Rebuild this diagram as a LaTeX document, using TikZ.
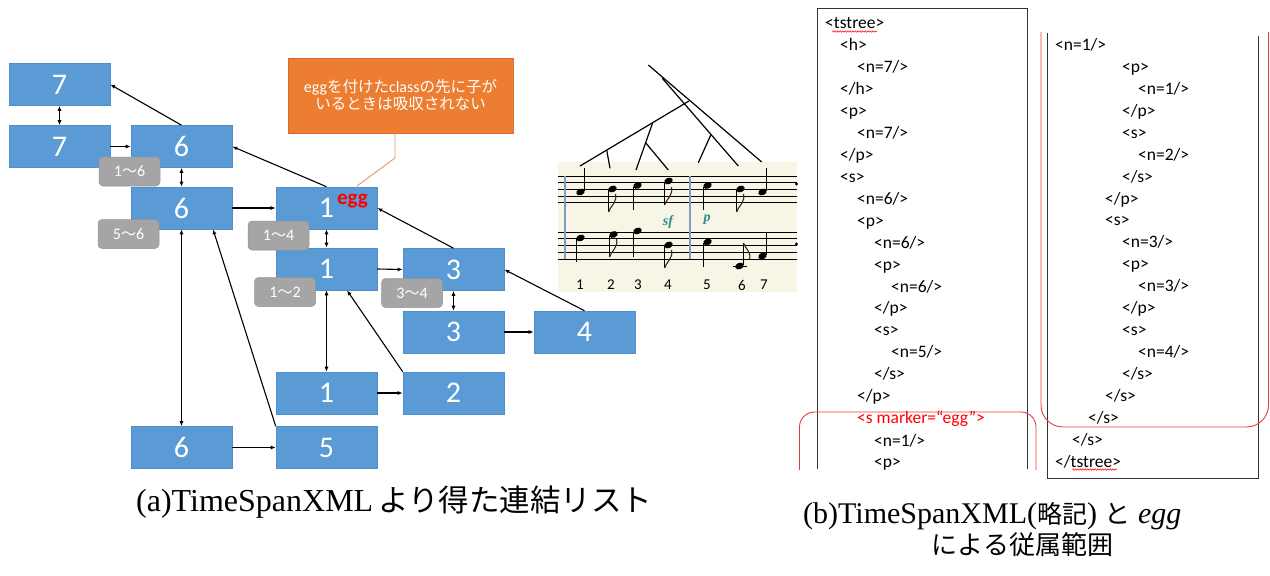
\documentclass[tikz,border=0pt]{standalone}
\usepackage{fontspec}
\setmainfont{Liberation Serif}
\newfontfamily\jp{Noto Sans CJK JP}
\newfontfamily\calfont{Carlito}
\usetikzlibrary{arrows.meta,decorations.pathmorphing,calc}
\definecolor{boxblue}{HTML}{5B9BD5}
\definecolor{boxedge}{HTML}{4F8FCB}
\definecolor{lblgray}{HTML}{A5A5A5}
\definecolor{lbledge}{HTML}{959595}
\definecolor{calloutor}{HTML}{ED7D31}
\definecolor{pointercol}{HTML}{E09868}
\definecolor{beige}{HTML}{F7F5E6}
\definecolor{barblue}{HTML}{7F9CC0}
\definecolor{dyncol}{HTML}{2E8B8B}
\definecolor{xmlred}{HTML}{FF0000}
\definecolor{panelred}{HTML}{E83A3A}
\definecolor{panelgray}{HTML}{333333}
\definecolor{flagcol}{HTML}{4A2222}
\newcommand\latn[1]{{\calfont\fontsize{16}{17}\selectfont #1}}
\newcommand\xl[4]{\node[xmltext] (#1) at (#2,#3+5.5) {#4};}
\newcommand\xr[4]{\node[xmltext,text=xmlred] (#1) at (#2,#3+5.5) {#4};}
\newcommand\nh[2]{\fill[rotate around={22:(#1,#2)}] (#1,#2) ellipse [x radius=4.4, y radius=3.2];}
\begin{document}
\begin{tikzpicture}[x=1pt,y=-1pt,
  bluebox/.style={fill=boxblue, draw=boxedge, line width=0.6pt, minimum width=101pt, minimum height=42pt, inner sep=0pt, text=white, font=\calfont\fontsize{30}{30}\selectfont},
  lbl/.style={fill=lblgray, draw=lbledge, line width=0.5pt, rounded corners=4pt, minimum width=61pt, minimum height=29pt, inner sep=0pt, text=white, font=\calfont\fontsize{16}{16}\selectfont},
  link/.style={-{Latex[length=5pt,width=4pt]}, line width=1.1pt},
  dlink/.style={{Latex[length=5pt,width=4pt]}-{Latex[length=5pt,width=4pt]}, line width=1.1pt},
  xmltext/.style={anchor=base west, inner sep=0pt, font=\calfont\fontsize{17.5}{17.5}\selectfont, text=black},
  staff/.style={line width=0.8pt, black},
  barl/.style={line width=1.2pt, barblue},
  stem/.style={line width=1pt, black},
  flag/.style={line width=1.1pt, flagcol},
  tree/.style={line width=1.2pt, black},
  num/.style={inner sep=0pt, font=\calfont\fontsize{15}{15}\selectfont},
  dyn/.style={inner sep=0pt, text=dyncol, font=\fontsize{14}{14}\selectfont\bfseries\itshape},
  panel/.style={line width=0.9pt, panelgray},
  redpanel/.style={line width=0.9pt, panelred},
  squig/.style={xmlred, line width=0.5pt, decorate, decoration={snake, amplitude=0.7pt, segment length=2.5pt}}
]
\useasboundingbox (0,0) rectangle (1270,576);

% ---------------- score ----------------
\fill[beige] (558,162) rectangle (797,292);
\foreach \yy in {176,182.7,189.4,196.1,202.8,232,238.8,245.6,252.4,259.2}
  \draw[staff] (558,\yy) -- (797,\yy);
\draw[barl] (565,176) -- (565,259.2);
\draw[barl] (690,176) -- (690,259.2);
% upper staff notes
\nh{580.5}{192} \draw[stem] (584.5,191) -- (584.5,168);
\nh{612.5}{189} \draw[stem] (608.5,190) -- (608.5,212);
\draw[flag] (608.5,212) .. controls (610.5,206) and (617.5,202) .. (615.5,194);
\nh{637.5}{185.5} \draw[stem] (633.5,186.5) -- (633.5,210);
\nh{668.5}{181} \draw[stem] (664.5,182) -- (664.5,205);
\draw[flag] (664.5,205) .. controls (666.5,199) and (673.5,195) .. (671.5,187);
\nh{707.5}{185.5} \draw[stem] (703.5,186.5) -- (703.5,210);
\nh{740.5}{189} \draw[stem] (736.5,190) -- (736.5,212);
\draw[flag] (736.5,212) .. controls (738.5,206) and (745.5,202) .. (743.5,194);
\nh{762.5}{192} \draw[stem] (766.5,191) -- (766.5,168);
% lower staff notes
\nh{580.5}{238} \draw[stem] (576.5,239) -- (576.5,262);
\nh{613.5}{234.5} \draw[stem] (609.5,235.5) -- (609.5,257);
\draw[flag] (609.5,257) .. controls (611.5,251) and (618.5,247) .. (616.5,239);
\nh{637.5}{231} \draw[stem] (633.5,232) -- (633.5,257);
\nh{668.5}{245} \draw[stem] (664.5,246) -- (664.5,268);
\draw[flag] (664.5,268) .. controls (666.5,262) and (673.5,258) .. (671.5,250);
\nh{707.5}{242} \draw[stem] (703.5,243) -- (703.5,267);
\draw[staff] (733,266) -- (747,266);
\nh{739.5}{266} \draw[stem] (743.5,265) -- (743.5,243);
\draw[flag] (743.5,243) .. controls (745.5,249) and (751.5,252) .. (749.5,259);
\nh{762.5}{256} \draw[stem] (766.5,255) -- (766.5,232);
\fill (796.5,184) circle (1.6); \fill (796.5,244) circle (1.6);
\node[dyn] (dsf) at (668,222) {sf};
\node[dyn] (dp) at (707,220) {p};
\node[num] (n1) at (580,285) {1};
\node[num] (n2) at (611,285) {2};
\node[num] (n3) at (638,285) {3};
\node[num] (n4) at (668,285) {4};
\node[num] (n5) at (707,285) {5};
\node[num] (n6) at (742,285) {6};
\node[num] (n7) at (764,285) {7};
% tree
\draw[tree] (648.3,65) -- (761.7,162);
\draw[tree] (662.3,78.3) -- (738.3,166);
\draw[tree] (689,101) -- (580,166);
\draw[tree] (606.7,150) -- (610,168.3);
\draw[tree] (652.7,122.7) -- (636,170);
\draw[tree] (645.6,142.7) -- (668.3,170);
\draw[tree] (711,134.5) -- (698.3,162.7);

% ---------------- boxes ----------------
\node[bluebox] (A) at (59.5,84.5) {7};
\node[bluebox] (B) at (59.5,146.5) {7};
\node[bluebox] (C) at (181.5,146.5) {6};
\node[bluebox] (D) at (181.5,208) {6};
\node[bluebox] (E) at (326.5,208) {1};
\node[bluebox] (F) at (326.5,269) {1};
\node[bluebox] (G) at (453.5,269.5) {3};
\node[bluebox] (H) at (453.5,332) {3};
\node[bluebox] (I) at (584.5,332) {4};
\node[bluebox] (J) at (326.5,393) {1};
\node[bluebox] (K) at (453.5,393) {2};
\node[bluebox] (L) at (181.5,447.5) {6};
\node[bluebox] (M) at (326.5,447.5) {5};
\node[anchor=base, inner sep=0pt, text=red, font=\calfont\bfseries\fontsize{21}{21}\selectfont] (egg) at (352.5,204) {egg};

% ---------------- connectors ----------------
\draw[dlink] (A.south) -- (B.north);
\draw[link] (B.east) -- (C.west);
\draw[link] (C.north) -- (A.east);
\draw[dlink] (C.south) -- (D.north);
\draw[link] (E.north) -- (C.east);
\draw[link] (D.east) -- (E.west);
\draw[dlink] (E.south) -- (F.north);
\draw[link] (G.north) -- (E.east);
\draw[link] (F.east) -- (G.west);
\draw[link] (I.north) -- (G.east);
\draw[dlink] (G.south) -- (H.north);
\draw[link] (H.east) -- (I.west);
\draw[dlink] (F.south) -- (J.north);
\draw[link] (K.north west) -- ([xshift=20.5pt]F.south);
\draw[link] (J.east) -- (K.west);
\draw[dlink] (D.south) -- (L.north);
\draw[link] (M.north west) -- ([xshift=31.5pt]D.south);
\draw[link] (L.east) -- (M.west);

% ---------------- gray labels ----------------
\node[lbl] (g16) at (129.5,171.5) {1{\jp\fontsize{15}{15}\selectfont 〜}6};
\node[lbl] (g56) at (128.5,234) {5{\jp\fontsize{15}{15}\selectfont 〜}6};
\node[lbl] (g14) at (278.5,235.5) {1{\jp\fontsize{15}{15}\selectfont 〜}4};
\node[lbl] (g12) at (285,292) {1{\jp\fontsize{15}{15}\selectfont 〜}2};
\node[lbl] (g34) at (412,293) {3{\jp\fontsize{15}{15}\selectfont 〜}4};

% ---------------- callout ----------------
\node[fill=calloutor, draw=calloutor!90!black, line width=0.5pt, minimum width=225pt, minimum height=75pt, inner sep=0pt, align=center, text=white, font=\jp\fontsize{15.5}{17}\selectfont] (callout) at (400.5,95.5)
  {\latn{egg}を付けた\latn{class}の先に子が\\いるときは吸収されない};
\coordinate (p1) at (395,158);
\coordinate (p2) at (357,186);
\draw[pointercol, line width=0.9pt] ([xshift=-5.5pt]callout.south) -- (p1) -- (p2);

% ---------------- XML panels ----------------
\draw[panel] (817,469) -- (817,8) -- (1027,8) -- (1027,469);
\draw[panel] (1047,33) -- (1047,478) -- (1258,478) -- (1258,36);
\draw[redpanel, rounded corners=15pt] (799.5,470) -- (799.5,412) -- (1036,412) -- (1036,470);
\draw[redpanel, rounded corners=22pt] (1041,32) -- (1041,427) -- (1268.5,427) -- (1268.5,32);

\xl{a1}{825}{23}{<tstree>}
\xl{a2}{840}{45}{<h>}
\xl{a3}{857}{67}{<n=7/>}
\xl{a4}{840}{89}{</h>}
\xl{a5}{840}{111}{<p>}
\xl{a6}{857}{133}{<n=7/>}
\xl{a7}{840}{155}{</p>}
\xl{a8}{840}{177}{<s>}
\xl{a9}{857}{199}{<n=6/>}
\xl{a10}{857}{221}{<p>}
\xl{a11}{874}{243}{<n=6/>}
\xl{a12}{874}{265}{<p>}
\xl{a13}{891}{287}{<n=6/>}
\xl{a14}{874}{308}{</p>}
\xl{a15}{874}{330}{<s>}
\xl{a16}{891}{352}{<n=5/>}
\xl{a17}{874}{374}{</s>}
\xl{a18}{857}{396}{</p>}
\xr{a19}{857}{418}{<s marker=“egg”>}
\xl{a20}{874}{441}{<n=1/>}
\xl{a21}{874}{462}{<p>}

\xl{b1}{1055}{45}{<n=1/>}
\xl{b2}{1122}{67}{<p>}
\xl{b3}{1138}{89}{<n=1/>}
\xl{b4}{1122}{111}{</p>}
\xl{b5}{1122}{133}{<s>}
\xl{b6}{1138}{155}{<n=2/>}
\xl{b7}{1122}{177}{</s>}
\xl{b8}{1105}{199}{</p>}
\xl{b9}{1105}{220}{<s>}
\xl{b10}{1122}{242}{<n=3/>}
\xl{b11}{1122}{264}{<p>}
\xl{b12}{1138}{286}{<n=3/>}
\xl{b13}{1122}{308}{</p>}
\xl{b14}{1122}{330}{<s>}
\xl{b15}{1138}{352}{<n=4/>}
\xl{b16}{1122}{374}{</s>}
\xl{b17}{1105}{396}{</s>}
\xl{b18}{1088}{418}{</s>}
\xl{b19}{1072}{440}{</s>}
\xl{b20}{1055}{462}{</tstree>}
\draw[squig] (832,31.5) -- (877,31.5);
\draw[squig] (1072,469.5) -- (1117,469.5);

% ---------------- captions ----------------
\node[anchor=base west, inner sep=0pt, font=\fontsize{32}{32}\selectfont] (capa) at (136,511)
  {(a)TimeSpanXML\hspace{5pt}{\jp\fontsize{30.5}{31}\selectfont より得た連結リスト}};
\node[anchor=base west, inner sep=0pt, font=\fontsize{30}{30}\selectfont] (capb1) at (803,523)
  {(b)TimeSpanXML({\jp\fontsize{25}{25}\selectfont 略記}) {\jp\fontsize{26}{26}\selectfont と} \textit{egg}};
\node[anchor=base, inner sep=0pt, font=\jp\fontsize{26}{26}\selectfont] (capb2) at (1022.5,554) {による従属範囲};
\end{tikzpicture}
\end{document}
